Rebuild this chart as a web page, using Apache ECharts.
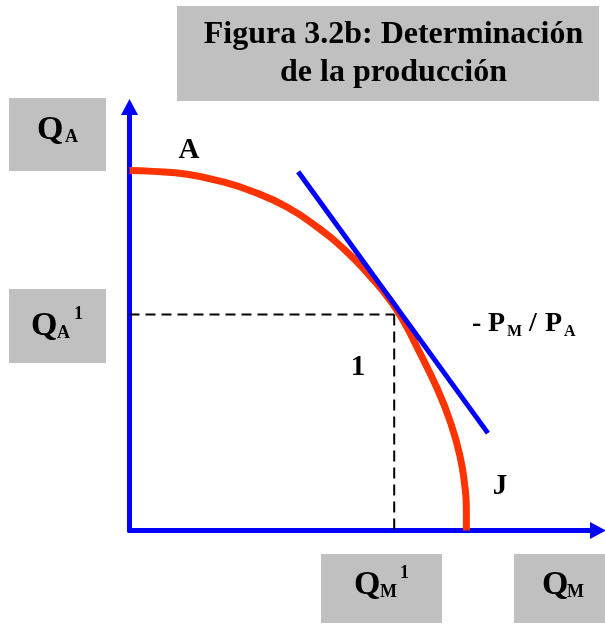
<!DOCTYPE html>
<html>
<head>
<meta charset="utf-8">
<script src="https://cdn.jsdelivr.net/npm/echarts@6/dist/echarts.min.js"></script>
<style>
  html, body { margin: 0; padding: 0; background: #ffffff; }
  #chart { width: 605px; height: 624px; }
</style>
</head>
<body>
<div id="chart"></div>
<script>
// Production possibility frontier: good M on the horizontal axis, good A on the vertical axis (arbitrary units)
const frontierM = [0, 5.0, 12.3, 19.3, 26.4, 33.6, 40.0, 46.4, 51.3, 55.6, 58.6, 62.0, 65.6, 68.4, 70.5, 71.6, 71.9, 71.9];
const frontierA = [85.0, 84.8, 84.1, 82.5, 80.0, 76.4, 71.7, 65.8, 60.1, 54.4, 49.2, 41.9, 33.7, 25.9, 17.8, 10.3, 5.3, 0];

// Relative price line (slope -PM/PA), tangent to the frontier
const priceLineM = [36.0, 76.5];
const priceLineA = [84.7, 23.0];

// Production point chosen at the tangency: (QM1, QA1)
const chosenM = 56.5;
const chosenA = 51.0;

// Axis extent
const axisMax = 100;

const zip = (xs, ys) => xs.map((x, i) => [x, ys[i]]);

const FONT = '"Liberation Serif", "Times New Roman", serif';
const GREY = '#c0c0c0';

function label(x, y, text, size, align) {
  return {
    type: 'text',
    x: x, y: y,
    z: 10,
    style: {
      text: text,
      fontFamily: FONT,
      fontWeight: 'bold',
      fontSize: size,
      fill: '#000000',
      align: align || 'left',
      verticalAlign: 'middle'
    }
  };
}
function box(x, y, w, h) {
  return { type: 'rect', z: 5, shape: { x: x, y: y, width: w, height: h }, style: { fill: GREY } };
}

const chart = echarts.init(document.getElementById('chart'), null, { renderer: 'canvas' });

chart.setOption({
  animation: false,
  backgroundColor: '#ffffff',
  grid: { left: 129.5, right: 7, top: 107, bottom: 93.5, containLabel: false },
  xAxis: {
    type: 'value', min: 0, max: axisMax,
    axisLine: { show: true, onZero: false, symbol: ['none', 'triangle'], symbolSize: [17, 16],
                lineStyle: { color: '#0000ff', width: 5 } },
    axisTick: { show: false }, axisLabel: { show: false }, splitLine: { show: false }
  },
  yAxis: {
    type: 'value', min: 0, max: axisMax,
    axisLine: { show: true, onZero: false, symbol: ['none', 'triangle'], symbolSize: [17, 16],
                lineStyle: { color: '#0000ff', width: 5 } },
    axisTick: { show: false }, axisLabel: { show: false }, splitLine: { show: false }
  },
  series: [
    {
      name: 'QA1', type: 'line', symbol: 'none', silent: true, z: 2,
      data: [[0, chosenA], [chosenM, chosenA]],
      lineStyle: { color: '#000000', width: 2, type: [10, 6] }
    },
    {
      name: 'QM1', type: 'line', symbol: 'none', silent: true, z: 2,
      data: [[chosenM, chosenA], [chosenM, 0]],
      lineStyle: { color: '#000000', width: 2, type: [11, 6] }
    },
    {
      name: 'Frontera', type: 'line', symbol: 'none', silent: true, z: 3,
      smooth: 0.5,
      data: zip(frontierM, frontierA),
      lineStyle: { color: '#ff3300', width: 7, cap: 'butt' }
    },
    {
      name: '-PM/PA', type: 'line', symbol: 'none', silent: true, z: 4,
      data: zip(priceLineM, priceLineA),
      lineStyle: { color: '#0000ff', width: 5, cap: 'butt' }
    }
  ],
  graphic: [
    // title
    box(177, 6, 422, 95),
    label(393.5, 35, 'Figura 3.2b: Determinación', 32, 'center'),
    label(393.5, 73, 'de la producción', 32, 'center'),
    // QA
    box(9, 98, 97, 73),
    label(37, 130.5, 'Q', 34),
    label(65, 137.5, 'A', 18),
    // QA1
    box(9, 289, 97, 74),
    label(31, 326.5, 'Q', 34),
    label(57, 333, 'A', 18),
    label(74, 314, '1', 18),
    // QM1
    box(321, 554, 121, 69),
    label(354, 585.5, 'Q', 34),
    label(380, 592.5, 'M', 18),
    label(400, 573.5, '1', 18),
    // QM
    box(514, 554, 91, 69),
    label(542, 585.5, 'Q', 34),
    label(567, 592.5, 'M', 18),
    // curve annotations
    label(189, 150.5, 'A', 29, 'center'),
    label(358, 367.5, '1', 29, 'center'),
    label(500, 487, 'J', 29, 'center'),
    label(472, 324, '-', 28),
    label(488, 324, 'P', 28),
    label(507, 331.5, 'M', 16),
    label(529, 324, '/', 28),
    label(545, 324, 'P', 28),
    label(564, 331.5, 'A', 16)
  ]
});
</script>
</body>
</html>
